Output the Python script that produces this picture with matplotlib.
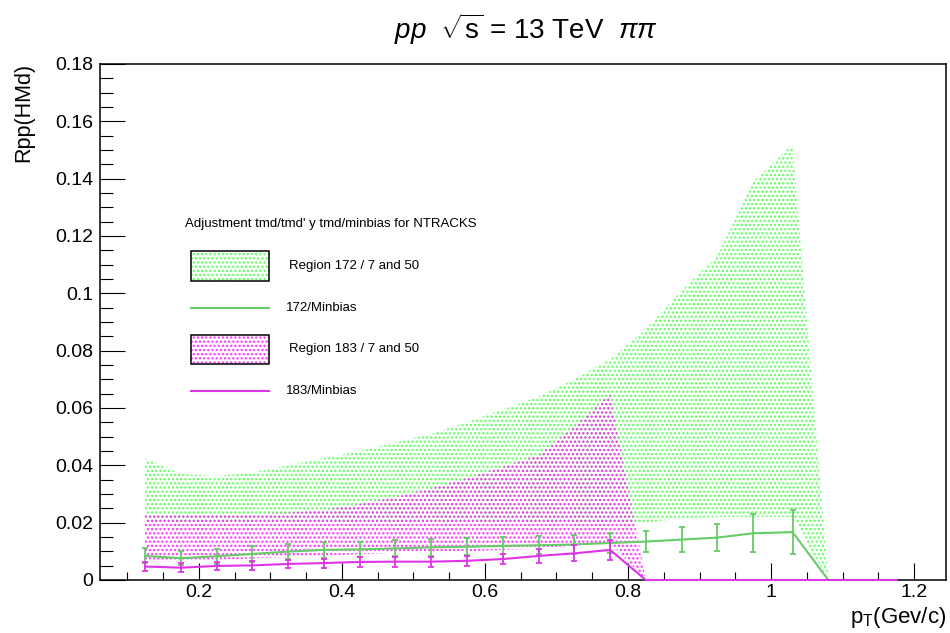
import matplotlib
matplotlib.use("Agg")
import matplotlib.pyplot as plt
from matplotlib.patches import Rectangle
from matplotlib.lines import Line2D
from matplotlib.ticker import MultipleLocator, FuncFormatter

plt.rcParams['font.family'] = ['Liberation Sans', 'DejaVu Sans']
plt.rcParams['mathtext.fontset'] = 'custom'
plt.rcParams['mathtext.rm'] = 'Liberation Sans'
plt.rcParams['mathtext.it'] = 'Liberation Sans:italic'
plt.rcParams['mathtext.bf'] = 'Liberation Sans:bold'
plt.rcParams['hatch.linewidth'] = 1.1

# ---------------- data ----------------
# 172/Minbias points
x172 = [0.125, 0.175, 0.225, 0.275, 0.325, 0.375, 0.425, 0.475, 0.525, 0.575,
        0.625, 0.675, 0.725, 0.775, 0.825, 0.875, 0.925, 0.975, 1.03]
y172 = [0.0084, 0.0076, 0.0083, 0.0091, 0.0099, 0.0105, 0.0107, 0.0110, 0.0114, 0.0116,
        0.0119, 0.0121, 0.0124, 0.0129, 0.0134, 0.0141, 0.0148, 0.0163, 0.0167]
e172 = [0.0026, 0.0024, 0.0026, 0.0027, 0.0027, 0.0027, 0.0027, 0.0028, 0.0029, 0.0030,
        0.0030, 0.0031, 0.0032, 0.0035, 0.0038, 0.0043, 0.0048, 0.0066, 0.0076]
x172_tail = [1.08, 1.175]
y172_tail = [0.0, 0.0]

# 183/Minbias points
x183 = [0.125, 0.175, 0.225, 0.275, 0.325, 0.375, 0.425, 0.475, 0.525, 0.575,
        0.625, 0.675, 0.725, 0.775]
y183 = [0.0047, 0.0043, 0.0049, 0.0051, 0.0056, 0.0059, 0.0063, 0.0064, 0.0064, 0.0067,
        0.0073, 0.0084, 0.0093, 0.0105]
e183 = [0.0015, 0.0015, 0.0015, 0.0015, 0.0015, 0.0016, 0.0016, 0.0017, 0.0017, 0.0017,
        0.0018, 0.0023, 0.0028, 0.0035]
x183_tail = [0.825, 0.875, 0.925, 0.975, 1.025, 1.075, 1.125, 1.175]
y183_tail = [0.0, 0.0, 0.0, 0.0, 0.0, 0.0, 0.0, 0.0]

# Region 172 / 7 and 50 band
band172_x = x172 + [1.08]
band172_hi = [0.0425, 0.0370, 0.0362, 0.0375, 0.0400, 0.0425, 0.0450, 0.0480, 0.0510, 0.0550,
              0.0595, 0.0640, 0.0700, 0.0770, 0.0875, 0.1010, 0.1130, 0.1390, 0.1520, 0.0]
band172_lo = [0.0200, 0.0200, 0.0200, 0.0200, 0.0200, 0.0200, 0.0200, 0.0200, 0.0200, 0.0200,
              0.0200, 0.0200, 0.0200, 0.0200, 0.0200, 0.0215, 0.0220, 0.0220, 0.0220, 0.0]

# Region 183 / 7 and 50 band
band183_x = x183 + [0.825]
band183_hi = [0.0230, 0.0228, 0.0228, 0.0230, 0.0235, 0.0245, 0.0265, 0.0290, 0.0320, 0.0355,
              0.0395, 0.0435, 0.0535, 0.0650, 0.0]
band183_lo = [0.0065, 0.0065, 0.0070, 0.0075, 0.0080, 0.0085, 0.0090, 0.0095, 0.0098, 0.0100,
              0.0105, 0.0110, 0.0120, 0.0130, 0.0]

title = r'$\it{pp}$  $\sqrt{\rm s}$ = 13 TeV  $\pi\pi$'
xlabel = r'p$_{\rm T}$(Gev/c)'
ylabel = 'Rpp(HMd)'
legend_header = "Adjustment tmd/tmd' y tmd/minbias for NTRACKS"
legend_labels = ['Region 172 / 7 and 50', '172/Minbias', 'Region 183 / 7 and 50', '183/Minbias']

# ---------------- style ----------------
W, H = 950, 633
GREEN_FILL = '#5cff5c'
GREEN_LINE = '#66cc66'
MAG_FILL = '#ff33ff'
MAG_LINE = '#e033e8'
HATCH = '....'

fig = plt.figure(figsize=(W / 100, H / 100), dpi=100)
ax = fig.add_axes([100 / W, 1 - 580 / H, (946 - 100) / W, (580 - 64) / H])

ax.fill_between(band172_x, band172_lo, band172_hi, facecolor='none',
                edgecolor=GREEN_FILL, hatch=HATCH, linewidth=0, zorder=1)
ax.fill_between(band183_x, band183_lo, band183_hi, facecolor='none',
                edgecolor=MAG_FILL, hatch=HATCH, linewidth=0, zorder=2)

ax.plot(x172 + x172_tail, y172 + y172_tail, color=GREEN_LINE, lw=1.5, zorder=3, clip_on=False)
ax.errorbar(x172, y172, yerr=e172, fmt='none', ecolor=GREEN_LINE, elinewidth=1.3,
            capsize=2, capthick=1.3, zorder=3)
ax.plot(x183 + x183_tail, y183 + y183_tail, color=MAG_LINE, lw=1.5, zorder=4, clip_on=False)
ax.errorbar(x183, y183, yerr=e183, fmt='none', ecolor=MAG_LINE, elinewidth=1.3,
            capsize=2, capthick=1.3, zorder=4)

ax.set_xlim(0.062, 1.2445)
ax.set_ylim(0, 0.18)

ax.xaxis.set_major_locator(MultipleLocator(0.2))
ax.xaxis.set_minor_locator(MultipleLocator(0.05))
ax.yaxis.set_major_locator(MultipleLocator(0.02))
ax.yaxis.set_minor_locator(MultipleLocator(0.005))


def root_fmt(v, pos):
    if abs(v) < 1e-9:
        return '0'
    return f'{v:.2f}'.rstrip('0').rstrip('.')


ax.xaxis.set_major_formatter(FuncFormatter(root_fmt))
ax.yaxis.set_major_formatter(FuncFormatter(root_fmt))

ax.tick_params(axis='y', which='major', direction='in', length=18, width=0.8, labelsize=14, pad=5)
ax.tick_params(axis='y', which='minor', direction='in', length=9, width=0.8)
ax.tick_params(axis='x', which='major', direction='in', length=12, width=0.8, labelsize=14, pad=3)
ax.tick_params(axis='x', which='minor', direction='in', length=6, width=0.8)
for s in ax.spines.values():
    s.set_linewidth(1.1)

# axis labels (ROOT style: aligned to the axis ends)
fig.text(946 / W, 1 - 617 / H, xlabel, ha='right', va='center', fontsize=16)
fig.text(24 / W, 1 - 63 / H, ylabel, ha='center', va='top', rotation=90, fontsize=15.5)
fig.text(526 / W, 1 - 29 / H, title, ha='center', va='center', fontsize=20)

# legend (drawn in figure pixel coordinates)
def px(x, y):
    return (x / W, 1 - y / H)

fig.text(*px(185, 224), legend_header, ha='left', va='center', fontsize=9.5)
for (y0, y1, col) in [(251, 280.5, GREEN_FILL), (334.5, 364, MAG_FILL)]:
    fig.patches.append(Rectangle(px(191, y1), 78 / W, (y1 - y0) / H, transform=fig.transFigure,
                                 facecolor='none', edgecolor=col, hatch=HATCH, linewidth=0))
    fig.patches.append(Rectangle(px(191, y1), 78 / W, (y1 - y0) / H, transform=fig.transFigure,
                                 facecolor='none', edgecolor='black', linewidth=1.1))
for (y, col) in [(308, GREEN_LINE), (391, MAG_LINE)]:
    fig.lines.append(Line2D([191 / W, 269 / W], [1 - y / H, 1 - y / H], transform=fig.transFigure,
                            color=col, lw=1.5))
fig.text(*px(289, 266), legend_labels[0], ha='left', va='center', fontsize=9.5)
fig.text(*px(285.5, 308), legend_labels[1], ha='left', va='center', fontsize=9.5)
fig.text(*px(289, 349), legend_labels[2], ha='left', va='center', fontsize=9.5)
fig.text(*px(285.5, 391), legend_labels[3], ha='left', va='center', fontsize=9.5)

fig.savefig('out.png', dpi=100)
